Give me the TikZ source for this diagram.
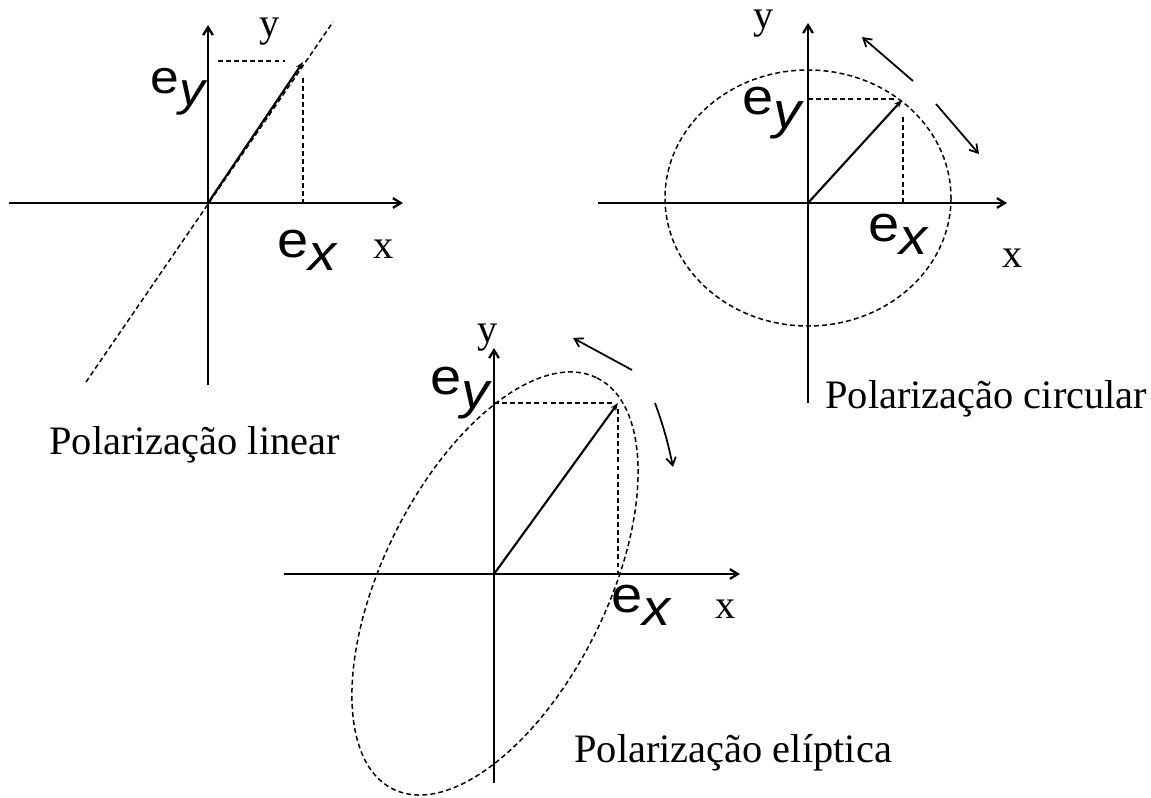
\documentclass[tikz,border=0pt]{standalone}
\usepackage{fontspec}
\setmainfont{Liberation Serif}
\setsansfont{Liberation Sans}
\usetikzlibrary{arrows.meta}
\begin{document}
\begin{tikzpicture}[x=0.02cm,y=-0.02cm,
  axis/.style={line width=1.3pt,-{Straight Barb[length=4.5pt,width=5.5pt]}},
  vec/.style={line width=1.2pt,-{Stealth[length=4.5pt,width=3.5pt]}},
  guide/.style={line width=0.85pt,dash pattern=on 2.8pt off 1.8pt},
  rot/.style={line width=1pt,-{Straight Barb[length=4.5pt,width=5.5pt]}},
  lab/.style={font=\fontsize{23}{27}\selectfont,inner sep=0pt},
  elab/.style={font=\sffamily\fontsize{29}{34}\selectfont,inner sep=0pt,xscale=1.1}]
\useasboundingbox (0,0) rectangle (1151,797);
\newcommand{\esub}[1]{e\kern0.3pt\lower0.26em\hbox{\itshape #1}}

% ---------- Panel 1: linear ----------
\coordinate (o1) at (208,203);
\coordinate (x1l) at (9,203);
\coordinate (x1r) at (403,203);
\coordinate (y1b) at (208,385);
\coordinate (y1t) at (208,25);
\coordinate (v1) at (303,62);
\coordinate (l1a) at (86,382);
\coordinate (l1b) at (333,22);
\draw[axis] (x1l) -- (x1r);
\draw[axis] (y1b) -- (y1t);
\draw[guide] (l1a) -- (l1b);
\draw[guide] (218,61) coordinate (h1a) -- (285,61) coordinate (h1b);
\draw[guide] (303,78) coordinate (d1a) -- (303,203) coordinate (d1b);
\draw[vec] (o1) -- (v1);
\node[lab,anchor=base] (ylab1) at (270,37) {y};
\node[lab,anchor=base] (xlab1) at (384,258) {x};
\node[elab,scale=0.92] (ey1) at (178,92) {\esub{y}};
\node[elab] (ex1) at (307,250) {\esub{x}};
\node[lab,anchor=base west] (t1) at (49,454) {Polarização linear};

% ---------- Panel 2: circular ----------
\coordinate (o2) at (808,203);
\coordinate (x2l) at (598,203);
\coordinate (x2r) at (1007,203);
\coordinate (y2b) at (808,403);
\coordinate (y2t) at (808,23);
\coordinate (v2) at (902,100);
\draw[guide] (808,198) coordinate (c2) ellipse [x radius=143, y radius=128];
\draw[axis] (x2l) -- (x2r);
\draw[axis] (y2b) -- (y2t);
\draw[guide] (808,99) coordinate (h2a) -- (896,99) coordinate (h2b);
\draw[guide] (903,117) coordinate (d2a) -- (903,203) coordinate (d2b);
\draw[vec] (o2) -- (v2);
\coordinate (r2a) at (913,81);
\coordinate (r2b) at (862,37);
\coordinate (r2c) at (936,104);
\coordinate (r2d) at (979,154);
\draw[rot] (r2a) -- (r2b);
\draw[rot] (r2c) -- (r2d);
\node[lab,anchor=base] (ylab2) at (764,29) {y};
\node[lab,anchor=base] (xlab2) at (1013,267) {x};
\node[elab] (ey2) at (772,113) {\esub{y}};
\node[elab] (ex2) at (898,234) {\esub{x}};
\node[lab,anchor=base west] (t2) at (825,408) {Polarização circular};

% ---------- Panel 3: elliptical ----------
\coordinate (o3) at (494,574);
\coordinate (x3l) at (284,574);
\coordinate (x3r) at (740,574);
\coordinate (y3b) at (494,783);
\coordinate (y3t) at (494,348);
\coordinate (v3) at (618,403);
\draw[guide, rotate around={63.6:(495,583.5)}] (495,583.5) coordinate (c3) ellipse [x radius=229.5, y radius=112];
\draw[axis] (x3l) -- (x3r);
\draw[axis] (y3b) -- (y3t);
\draw[guide] (494,403) coordinate (h3a) -- (612,403) coordinate (h3b);
\draw[guide] (618,409) coordinate (d3a) -- (618,574) coordinate (d3b);
\draw[vec] (o3) -- (v3);
\coordinate (r3a) at (632,370);
\coordinate (r3b) at (573,338);
\coordinate (r3c) at (655,403);
\coordinate (r3d) at (673,467);
\draw[rot] (r3a) -- (r3b);
\draw[rot] (r3c) to[bend left=4] (r3d);
\node[lab,anchor=base] (ylab3) at (488,342) {y};
\node[lab,anchor=base] (xlab3) at (726,618) {x};
\node[elab] (ey3) at (460,393) {\esub{y}};
\node[elab] (ex3) at (641,605) {\esub{x}};
\node[lab,anchor=base west] (t3) at (574,762) {Polarização elíptica};
\end{tikzpicture}
\end{document}
